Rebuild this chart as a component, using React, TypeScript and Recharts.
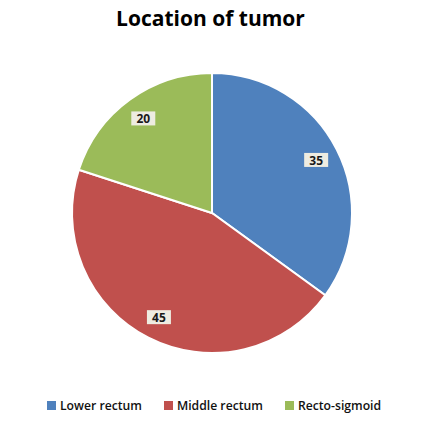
import React from 'react';
import { PieChart, Pie, Cell } from 'recharts';

const categories = ['Lower rectum', 'Middle rectum', 'Recto-sigmoid'];
const values = [35, 45, 20];
const colors = ['#4F81BD', '#C0504D', '#9BBB59'];
const title = 'Location of tumor';

const data = categories.map((name, i) => ({ name, value: values[i] }));

const RAD = Math.PI / 180;

const renderLabel = (props: any) => {
  const { cx, cy, midAngle, outerRadius, value } = props;
  const r = outerRadius * 0.835;
  const x = cx + r * Math.cos(-midAngle * RAD);
  const y = cy + r * Math.sin(-midAngle * RAD);
  const w = 24;
  const h = 14;
  return (
    <g>
      <rect x={x - w / 2} y={y - h / 2} width={w} height={h} fill="#EEECE1" />
      <text
        x={x}
        y={y + 0.5}
        textAnchor="middle"
        dominantBaseline="central"
        fontFamily="'Open Sans', sans-serif"
        fontWeight="bold"
        fontSize={12}
        fill="#1a1a1a"
      >
        {value}
      </text>
    </g>
  );
};

export default function App() {
  return (
    <div style={{ position: 'fixed', left: 0, top: 0, width: 421, height: 421, background: '#fff' }}>
      <div
        style={{
          position: 'absolute',
          top: 4,
          left: 0,
          width: 421,
          textAlign: 'center',
          fontFamily: "'Open Sans', sans-serif",
          fontWeight: 'bold',
          fontSize: 21,
          color: '#000',
        }}
      >
        {title}
      </div>
      <PieChart width={421} height={421} style={{ position: 'absolute', left: 0, top: 0 }}>
        <Pie
          data={data}
          dataKey="value"
          nameKey="name"
          cx={207}
          cy={208}
          outerRadius={140}
          startAngle={90}
          endAngle={-270}
          stroke="#fff"
          strokeWidth={2}
          label={renderLabel}
          labelLine={false}
          isAnimationActive={false}
        >
          {data.map((d, i) => (
            <Cell key={d.name} fill={colors[i]} />
          ))}
        </Pie>
      </PieChart>
      <div
        style={{
          position: 'absolute',
          top: 397,
          left: 47,
          display: 'flex',
          alignItems: 'center',
          fontFamily: "'Open Sans', sans-serif",
          fontSize: 12.2,
          fontWeight: 600,
          color: '#111',
          whiteSpace: 'nowrap',
        }}
      >
        {categories.map((c, i) => (
          <div key={c} style={{ display: 'flex', alignItems: 'center', marginRight: i < categories.length - 1 ? 22 : 0 }}>
            <span style={{ display: 'inline-block', width: 9, height: 9, background: colors[i], marginRight: 4 }} />
            <span>{c}</span>
          </div>
        ))}
      </div>
    </div>
  );
}
